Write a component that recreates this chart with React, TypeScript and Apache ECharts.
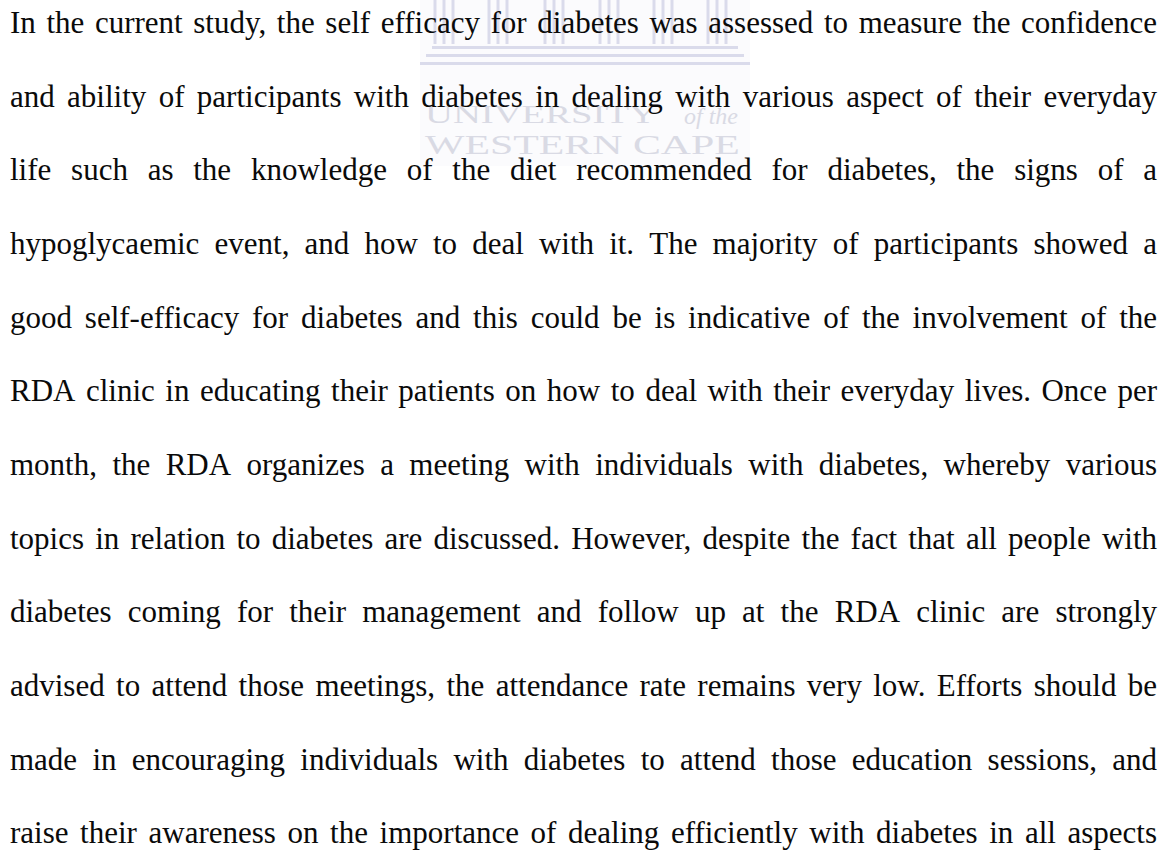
import React, { useEffect, useRef } from "react";
import * as echarts from "echarts";

// Paragraph lines, as they break in the source page (justified text)
const lines: string[] = [
  "In the current study, the self efficacy for diabetes was assessed to measure the confidence",
  "and ability of participants with diabetes in dealing with various aspect of their everyday",
  "life such as the knowledge of the diet recommended for diabetes, the signs of a",
  "hypoglycaemic event, and how to deal with it. The majority of participants showed a",
  "good self-efficacy for diabetes and this could be is indicative of the involvement of the",
  "RDA clinic in educating their patients on how to deal with their everyday lives. Once per",
  "month, the RDA organizes a meeting with individuals with diabetes, whereby various",
  "topics in relation to diabetes are discussed. However, despite the fact that all people with",
  "diabetes coming for their management and follow up at the RDA clinic are strongly",
  "advised to attend those meetings, the attendance rate remains very low. Efforts should be",
  "made in encouraging individuals with diabetes to attend those education sessions, and",
  "raise their awareness on the importance of dealing efficiently with diabetes in all aspects",
];

// Watermark texts
const watermarkLine1 = "UNIVERSITY";
const watermarkLine1b = "of the";
const watermarkLine2 = "WESTERN CAPE";

const FONT_SIZE = 31;
const FONT_FAMILY = '"Liberation Serif", "Times New Roman", serif';
const FONT = `${FONT_SIZE}px ${FONT_FAMILY}`;
const LEFT = 10;
const RIGHT = 1157;
const FIRST_BASELINE = 33;
const LINE_STEP = 73.65;
const TEXT_COLOR = "#0a0a0a";
const WM_COLOR = "#dadbeb";
const WM_TEXT = "#d9dae4";

function measure(ctx: CanvasRenderingContext2D, s: string, font: string) {
  ctx.font = font;
  return ctx.measureText(s).width;
}

export default function App() {
  const ref = useRef<HTMLDivElement>(null);
  useEffect(() => {
    document.body.style.margin = "0";
    const el = ref.current!;
    const chart = echarts.init(el, undefined, { renderer: "svg" });
    const canvas = document.createElement("canvas");
    const ctx = canvas.getContext("2d")!;

    const elements: any[] = [];

    // --- watermark (behind text) ---
    elements.push({
      type: "rect",
      z: 1,
      shape: { x: 420, y: 0, width: 330, height: 166 },
      style: { fill: "#fbfbfd" },
    });
    const colCenters = [445, 499, 555, 610, 664, 718];
    colCenters.forEach((cx) => {
      [-10, -1, 8].forEach((off) => {
        elements.push({
          type: "rect",
          z: 2,
          shape: { x: cx + off - 1.5, y: 0, width: 3, height: 44 },
          style: { fill: WM_COLOR },
        });
      });
    });
    const steps = [
      { x: 432, y: 46, w: 306 },
      { x: 426, y: 54, w: 318 },
      { x: 420, y: 62, w: 330 },
    ];
    steps.forEach((s) => {
      elements.push({
        type: "rect",
        z: 2,
        shape: { x: s.x, y: s.y, width: s.w, height: 3 },
        style: { fill: WM_COLOR },
      });
    });
    const wmFont1 = `26px ${FONT_FAMILY}`;
    const w1 = measure(ctx, watermarkLine1, wmFont1);
    elements.push({
      type: "text",
      z: 2,
      x: 425,
      y: 114,
      scaleX: 232 / w1,
      style: {
        text: watermarkLine1,
        font: wmFont1,
        fill: WM_TEXT,
        verticalAlign: "middle",
        align: "left",
      },
    });
    elements.push({
      type: "text",
      z: 2,
      x: 684,
      y: 116,
      style: {
        text: watermarkLine1b,
        font: `italic 24px ${FONT_FAMILY}`,
        fill: WM_TEXT,
        verticalAlign: "middle",
        align: "left",
      },
    });
    const wmFont2 = `28px ${FONT_FAMILY}`;
    const w2 = measure(ctx, watermarkLine2, wmFont2);
    elements.push({
      type: "text",
      z: 2,
      x: 425,
      y: 145,
      scaleX: 315 / w2,
      style: {
        text: watermarkLine2,
        font: wmFont2,
        fill: WM_TEXT,
        verticalAlign: "middle",
        align: "left",
      },
    });

    // --- justified paragraph ---
    lines.forEach((line, i) => {
      const words = line.split(" ");
      const widths = words.map((w) => measure(ctx, w, FONT));
      const total = widths.reduce((a, b) => a + b, 0);
      const gap = words.length > 1 ? (RIGHT - LEFT - total) / (words.length - 1) : 0;
      const baseline = FIRST_BASELINE + i * LINE_STEP;
      let x = LEFT;
      words.forEach((w, j) => {
        elements.push({
          type: "text",
          z: 10,
          x,
          y: baseline - FONT_SIZE * 0.3375,
          style: {
            text: w,
            font: FONT,
            fill: TEXT_COLOR,
            verticalAlign: "middle",
            align: "left",
          },
        });
        x += widths[j] + gap;
      });
    });

    chart.setOption({
      animation: false,
      backgroundColor: "#ffffff",
      graphic: { elements },
    });
    return () => chart.dispose();
  }, []);
  return <div ref={ref} style={{ width: 1171, height: 850 }} />;
}
